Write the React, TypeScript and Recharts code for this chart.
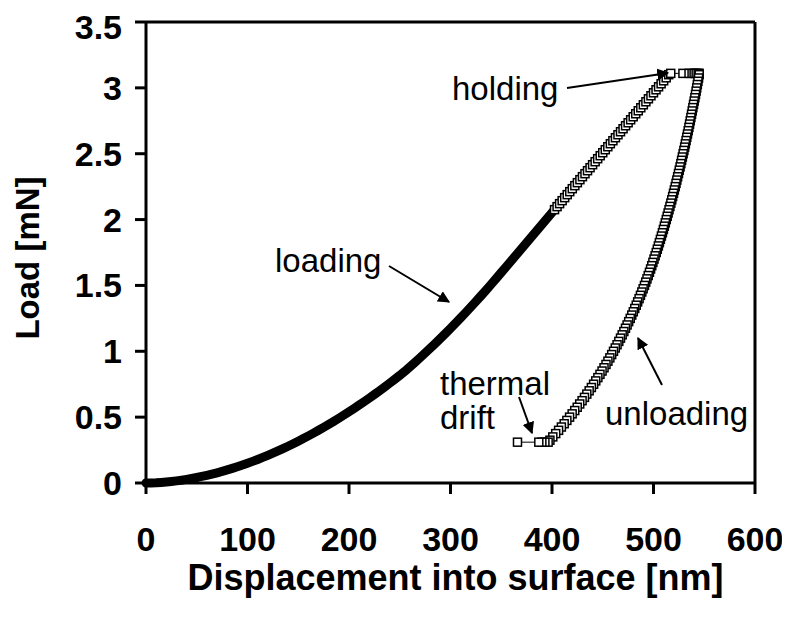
import { LineChart, Line, XAxis, YAxis, ReferenceLine, Label } from 'recharts';

// indentation cycle, [displacement nm, load mN]
const loading: [number, number][] = [
  [0, 0], [5, 0.0006], [10, 0.0021], [15, 0.0045], [20, 0.0076], [25, 0.0115], [30, 0.0162], [35, 0.0215],
  [40, 0.0275], [45, 0.0342], [50, 0.0416], [55, 0.0496], [60, 0.0583], [65, 0.0676], [70, 0.0775], [75, 0.0881],
  [80, 0.0992], [85, 0.111], [90, 0.1234], [95, 0.1364], [100, 0.15], [105, 0.1641], [110, 0.1789], [115, 0.1942],
  [120, 0.2101], [125, 0.2265], [130, 0.2436], [135, 0.2613], [140, 0.2794], [145, 0.2982], [150, 0.3175], [155, 0.3373],
  [160, 0.3577], [165, 0.3787], [170, 0.4002], [175, 0.4222], [180, 0.4448], [185, 0.4679], [190, 0.4916], [195, 0.5158],
  [200, 0.5405], [205, 0.5658], [210, 0.5916], [215, 0.6179], [220, 0.6447], [225, 0.6721], [230, 0.7], [235, 0.7285],
  [240, 0.7574], [245, 0.7868], [250, 0.8168], [255, 0.8482], [260, 0.8818], [265, 0.9161], [270, 0.951], [275, 0.9865],
  [280, 1.0227], [285, 1.0596], [290, 1.0971], [295, 1.1352], [300, 1.1741], [305, 1.2135], [310, 1.2536], [315, 1.2944],
  [320, 1.3358], [325, 1.3779], [330, 1.4206], [335, 1.464], [340, 1.508], [345, 1.5527], [350, 1.5978], [355, 1.6431],
  [360, 1.6886], [365, 1.7341], [370, 1.7796], [375, 1.8251], [380, 1.8706], [385, 1.9161], [390, 1.9616], [395, 2.0071],
  [400, 2.0526], [402.5, 2.0754], [405, 2.0981], [407.5, 2.1209], [410, 2.1436], [412.5, 2.1664], [415, 2.1891],
  [417.5, 2.2119], [420, 2.2346], [422.5, 2.2574], [425, 2.2801], [427.5, 2.3029], [430, 2.3256], [432.5, 2.3484],
  [435, 2.3711], [437.5, 2.3939], [440, 2.4166], [442.5, 2.4394], [445, 2.4621], [447.5, 2.4849], [450, 2.5076],
  [452.5, 2.5304], [455, 2.5531], [457.5, 2.5759], [460, 2.5986], [462.5, 2.6214], [465, 2.6441], [467.5, 2.6669],
  [470, 2.6896], [472.5, 2.7124], [475, 2.7351], [477.5, 2.7579], [480, 2.7806], [482.5, 2.8034], [485, 2.8261],
  [487.5, 2.8489], [490, 2.8716], [492.5, 2.8944], [495, 2.9171], [497.5, 2.9399], [500, 2.9626], [502.5, 2.9854],
  [505, 3.0081], [507.5, 3.0309], [510, 3.0536], [512.5, 3.0764], [515, 3.1],
];

const holding: [number, number][] = [
  [517, 3.11], [529, 3.11], [535, 3.11], [538, 3.11], [540, 3.11], [542, 3.11], [544, 3.11], [545, 3.11],
];

const unloading: [number, number][] = [
  [545, 3.1], [544.4, 3.075], [543.8, 3.05], [543.2, 3.025], [542.6, 3.0], [542.0, 2.975], [541.4, 2.95],
  [540.75, 2.925], [540.1, 2.9], [539.45, 2.875], [538.8, 2.85], [538.15, 2.825], [537.5, 2.8], [536.85, 2.775],
  [536.2, 2.75], [535.55, 2.725], [534.9, 2.7], [534.2, 2.675], [533.5, 2.65], [532.8, 2.625], [532.1, 2.6],
  [531.4, 2.575], [530.7, 2.55], [529.95, 2.525], [529.2, 2.5], [528.45, 2.475], [527.7, 2.45], [526.95, 2.425],
  [526.2, 2.4], [525.4, 2.375], [524.6, 2.35], [523.8, 2.325], [523.0, 2.3], [522.2, 2.275], [521.4, 2.25],
  [520.55, 2.225], [519.7, 2.2], [518.85, 2.175], [518.0, 2.15], [517.1, 2.125], [516.2, 2.1], [515.3, 2.075],
  [514.4, 2.05], [513.5, 2.025], [512.6, 2.0], [511.65, 1.975], [510.7, 1.95], [509.75, 1.925], [508.8, 1.9],
  [507.8, 1.875], [506.8, 1.85], [505.8, 1.825], [504.8, 1.8], [503.75, 1.775], [502.7, 1.75], [501.6, 1.725],
  [500.5, 1.7], [499.4, 1.675], [498.3, 1.65], [497.15, 1.625], [496.0, 1.6], [494.8, 1.575], [493.6, 1.55],
  [492.35, 1.525], [491.1, 1.5], [489.8, 1.475], [488.5, 1.45], [487.15, 1.425], [485.8, 1.4], [484.4, 1.375],
  [483.0, 1.35], [481.55, 1.325], [480.1, 1.3], [478.6, 1.275], [477.1, 1.25], [475.55, 1.225], [474.0, 1.2],
  [472.4, 1.175], [470.8, 1.15], [469.15, 1.125], [467.5, 1.1], [465.8, 1.075], [464.1, 1.05], [462.35, 1.025],
  [460.6, 1.0], [458.8, 0.975], [457.0, 0.95], [455.1, 0.925], [453.2, 0.9], [451.25, 0.875], [449.3, 0.85],
  [447.25, 0.825], [445.2, 0.8], [443.1, 0.775], [441.0, 0.75], [438.8, 0.725], [436.6, 0.7], [434.3, 0.675],
  [432.0, 0.65], [429.65, 0.625], [427.3, 0.6], [424.85, 0.575], [422.4, 0.55], [419.85, 0.525], [417.3, 0.5],
  [414.65, 0.475], [412.0, 0.45], [409.25, 0.425], [406.5, 0.4], [403.65, 0.375], [400.8, 0.35], [397.95, 0.325],
  [396.2, 0.31],
];

const drift: [number, number][] = [
  [393, 0.31], [390, 0.31], [387, 0.31], [366, 0.31],
];

const xTicks = [0, 100, 200, 300, 400, 500, 600];
const yTicks = [0, 0.5, 1, 1.5, 2, 2.5, 3, 3.5];

// below this displacement the loading markers sit so close they merge into a solid band
const BAND_END = 420;
const MARKS_FROM = 402;

const data = [
  ...loading.map(([h, p]) => ({ h, p, band: h <= BAND_END ? p : undefined, mark: h >= MARKS_FROM })),
  ...[...holding, ...unloading, ...drift].map(([h, p]) => ({ h, p, band: undefined, mark: true })),
];

const FONT = '"Liberation Sans", Arial, sans-serif';

const SquareDot = (props: any) => {
  const { cx, cy, index, payload } = props;
  if (cx == null || cy == null || !payload?.mark) return <g key={index} />;
  return (
    <rect key={index} x={cx - 4} y={cy - 4} width={8} height={8} fill="#fff" stroke="#000" strokeWidth={1.5} />
  );
};

const tickStyle = { fill: '#000', fontSize: 34, fontWeight: 'bold' as const, fontFamily: FONT };
const noteStyle = { fill: '#000', fontSize: 33, fontFamily: FONT };

export default function App() {
  return (
    <div style={{ position: 'relative', width: 774, height: 613 }}>
      <LineChart width={774} height={613} data={data} margin={{ top: 14, right: 27, left: 0, bottom: 0 }}>
        <XAxis
          dataKey="h"
          type="number"
          domain={[0, 600]}
          ticks={xTicks}
          height={138}
          tickSize={11}
          tickMargin={33}
          axisLine={{ stroke: '#000', strokeWidth: 3 }}
          tickLine={{ stroke: '#000', strokeWidth: 3 }}
          tick={tickStyle}
        >
          <Label
            value="Displacement into surface [nm]"
            position="insideBottom"
            offset={31}
            dx={5}
            fill="#000"
            fontSize={36}
            fontWeight="bold"
            fontFamily={FONT}
          />
        </XAxis>
        <YAxis
          type="number"
          domain={[0, 3.5]}
          ticks={yTicks}
          width={138}
          tickSize={11}
          tickMargin={13}
          axisLine={{ stroke: '#000', strokeWidth: 3 }}
          tickLine={{ stroke: '#000', strokeWidth: 3 }}
          tick={tickStyle}
        />
        <ReferenceLine y={3.5} stroke="#000" strokeWidth={3} />
        <ReferenceLine x={600} stroke="#000" strokeWidth={3} />
        <Line
          dataKey="band"
          type="linear"
          stroke="#000"
          strokeWidth={9}
          strokeLinecap="round"
          strokeLinejoin="round"
          dot={false}
          activeDot={false}
          isAnimationActive={false}
        />
        <Line
          dataKey="p"
          type="linear"
          stroke="#000"
          strokeWidth={1}
          dot={SquareDot}
          activeDot={false}
          isAnimationActive={false}
        />
      </LineChart>
      <svg width={774} height={613} style={{ position: 'absolute', left: 0, top: 0, pointerEvents: 'none' }}>
        <defs>
          <marker id="head" viewBox="0 0 10 10" refX="9" refY="5" markerWidth="6" markerHeight="6" orient="auto">
            <path d="M0,0 L10,5 L0,10 z" fill="#000" />
          </marker>
        </defs>
        <text x={31} y={250} transform="rotate(-90 31 250)" textAnchor="middle" fill="#000" fontSize={33} fontWeight="bold" fontFamily={FONT}>
          Load [mN]
        </text>
        <text x={444} y={92} {...noteStyle}>holding</text>
        <line x1={559} y1={80} x2={660} y2={65} stroke="#000" strokeWidth={2} markerEnd="url(#head)" />
        <text x={267} y={264} {...noteStyle}>loading</text>
        <line x1={381} y1={258} x2={441} y2={294} stroke="#000" strokeWidth={2} markerEnd="url(#head)" />
        <text x={432} y={387} {...noteStyle}>thermal</text>
        <text x={432} y={421} {...noteStyle}>drift</text>
        <line x1={511} y1={389} x2={524} y2={425} stroke="#000" strokeWidth={2} markerEnd="url(#head)" />
        <text x={597} y={417} {...noteStyle}>unloading</text>
        <line x1={654} y1={377} x2={630} y2={330} stroke="#000" strokeWidth={2} markerEnd="url(#head)" />
      </svg>
    </div>
  );
}
